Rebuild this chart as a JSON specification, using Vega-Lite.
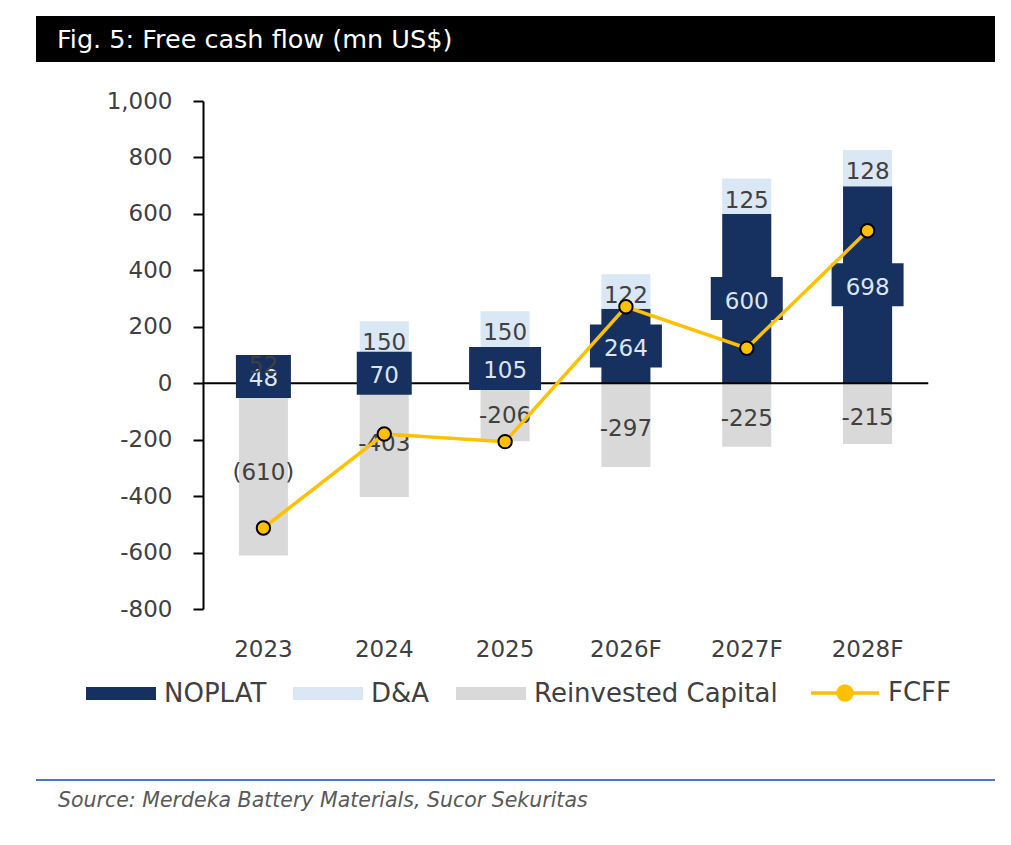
{
  "$schema": "https://vega.github.io/schema/vega-lite/v6.json",
  "background": "white",
  "padding": {"left": 36, "top": 16, "right": 0, "bottom": 0},
  "spacing": 28,
  "config": {
    "font": "DejaVu Sans",
    "view": {"stroke": null}
  },
  "datasets": {
    "flows": [
      {"year": "2023", "series": "NOPLAT", "value": 48, "label": "48"},
      {"year": "2023", "series": "D&A", "value": 52, "label": "52"},
      {"year": "2023", "series": "Reinvested Capital", "value": -610, "label": "(610)"},
      {"year": "2024", "series": "NOPLAT", "value": 70, "label": "70"},
      {"year": "2024", "series": "D&A", "value": 150, "label": "150"},
      {"year": "2024", "series": "Reinvested Capital", "value": -403, "label": "-403"},
      {"year": "2025", "series": "NOPLAT", "value": 105, "label": "105"},
      {"year": "2025", "series": "D&A", "value": 150, "label": "150"},
      {"year": "2025", "series": "Reinvested Capital", "value": -206, "label": "-206"},
      {"year": "2026F", "series": "NOPLAT", "value": 264, "label": "264"},
      {"year": "2026F", "series": "D&A", "value": 122, "label": "122"},
      {"year": "2026F", "series": "Reinvested Capital", "value": -297, "label": "-297"},
      {"year": "2027F", "series": "NOPLAT", "value": 600, "label": "600"},
      {"year": "2027F", "series": "D&A", "value": 125, "label": "125"},
      {"year": "2027F", "series": "Reinvested Capital", "value": -225, "label": "-225"},
      {"year": "2028F", "series": "NOPLAT", "value": 698, "label": "698"},
      {"year": "2028F", "series": "D&A", "value": 128, "label": "128"},
      {"year": "2028F", "series": "Reinvested Capital", "value": -215, "label": "-215"}
    ],
    "fcff": [
      {"year": "2023", "FCFF": -513},
      {"year": "2024", "FCFF": -180},
      {"year": "2025", "FCFF": -207},
      {"year": "2026F", "FCFF": 271},
      {"year": "2027F", "FCFF": 124},
      {"year": "2028F", "FCFF": 540}
    ],
    "one": [{}]
  },
  "vconcat": [
    {
      "width": 959,
      "height": 46,
      "view": {"fill": "black", "stroke": null},
      "title": {
        "text": "Fig. 5: Free cash flow (mn US$)",
        "orient": "top",
        "anchor": "start",
        "offset": -62,
        "dx": 21,
        "color": "white",
        "fontSize": 25.5,
        "fontWeight": "normal",
        "baseline": "bottom"
      },
      "data": {"name": "one"},
      "mark": {"type": "text", "text": ""}
    },
    {
      "width": 959,
      "height": 508,
      "resolve": {"scale": {"y": "independent"}},
      "layer": [
        {
          "data": {"name": "flows"},
          "mark": {"type": "bar"},
          "encoding": {
            "x": {
              "field": "year", "type": "ordinal",
              "scale": {"domain": ["2023", "2024", "2025", "2026F", "2027F", "2028F"], "range": [167, 892], "paddingInner": 0.594, "paddingOuter": 0.297},
              "axis": {"title": "\u00a0", "titleFontSize": 10, "titlePadding": 75, "labelAngle": 0, "domain": false, "ticks": false, "labelPadding": 29, "labelFontSize": 23, "labelColor": "#404040"}
            },
            "y": {
              "field": "value", "type": "quantitative", "stack": "zero",
              "scale": {"domain": [-800, 1000], "nice": false},
              "axis": {
                "title": null,
                "offset": -167,
                "values": [-800, -600, -400, -200, 0, 200, 400, 600, 800, 1000],
                "format": ",d",
                "labelExpr": "replace(datum.label, '\u2212', '-')",
                "grid": false,
                "domainColor": "black", "domainWidth": 2,
                "tickColor": "black", "tickWidth": 2, "tickSize": 10,
                "labelPadding": 21, "labelFontSize": 23, "labelColor": "#404040"
              }
            },
            "color": {
              "field": "series", "type": "nominal",
              "scale": {
                "domain": ["NOPLAT", "D&A", "Reinvested Capital", "FCFF"],
                "range": ["#16305F", "#DAE7F5", "#D9D9D9", "#FFC000"]
              },
              "legend": {
                "orient": "none", "legendX": 72, "legendY": 664,
                "direction": "horizontal", "title": null,
                "padding": 0, "columnPadding": 26, "labelOffset": 30,
                "labelFontSize": 26, "labelColor": "#404040", "labelLimit": 400,
                "symbolSize": 676, "symbolOpacity": 1, "symbolStrokeWidth": 0,
                "encode": {
                  "symbols": {
                    "update": {
                      "shape": {"signal": "datum.value === 'FCFF' ? 'M-2.615,0H-0.538M0.538,0H2.615M0.538,0A0.538,0.538 0 1 1 -0.538,0A0.538,0.538 0 1 1 0.538,0Z' : 'M-2.692,-0.5H2.692V0.5H-2.692Z'"},
                      "stroke": {"signal": "datum.value === 'FCFF' ? '#FFC000' : 'transparent'"},
                      "strokeWidth": {"signal": "datum.value === 'FCFF' ? 3.5 : 0"}
                    }
                  }
                }
              }
            },
            "order": {"field": "series", "sort": "descending"}
          }
        },
        {
          "data": {"name": "one"},
          "mark": {"type": "rule", "color": "black", "strokeWidth": 2},
          "encoding": {
            "x": {
              "datum": "2023", "type": "ordinal", "bandPosition": -0.733,
              "scale": {"domain": ["2023", "2024", "2025", "2026F", "2027F", "2028F"], "range": [167, 892], "paddingInner": 0.594, "paddingOuter": 0.297},
              "axis": {"title": "\u00a0", "titleFontSize": 10, "titlePadding": 75, "labelAngle": 0, "domain": false, "ticks": false, "labelPadding": 29, "labelFontSize": 23, "labelColor": "#404040"}
            },
            "x2": {"datum": "2028F", "bandPosition": 1.737},
            "y": {"datum": 0, "type": "quantitative", "scale": {"domain": [-800, 1000], "nice": false}, "axis": null}
          }
        },
        {
          "data": {"name": "flows"},
          "transform": [{"filter": "datum.series === 'NOPLAT'"}],
          "mark": {"type": "tick", "orient": "horizontal", "thickness": 43, "color": "#16305F", "opacity": 1},
          "encoding": {
            "x": {
              "field": "year", "type": "ordinal",
              "scale": {"domain": ["2023", "2024", "2025", "2026F", "2027F", "2028F"], "range": [167, 892], "paddingInner": 0.594, "paddingOuter": 0.297},
              "axis": {"title": "\u00a0", "titleFontSize": 10, "titlePadding": 75, "labelAngle": 0, "domain": false, "ticks": false, "labelPadding": 29, "labelFontSize": 23, "labelColor": "#404040"}
            },
            "y": {"field": "value", "type": "quantitative", "scale": {"domain": [-1600, 2000], "nice": false, "zero": false}, "axis": null},
            "size": {"condition": {"test": "datum.value < 100", "value": 55}, "value": 72}
          }
        },
        {
          "data": {"name": "flows"},
          "transform": [{"filter": "datum.series === 'NOPLAT'"}],
          "mark": {"type": "text", "fontSize": 23, "color": "#DDE5F0", "baseline": "middle", "dy": 3},
          "encoding": {
            "x": {
              "field": "year", "type": "ordinal",
              "scale": {"domain": ["2023", "2024", "2025", "2026F", "2027F", "2028F"], "range": [167, 892], "paddingInner": 0.594, "paddingOuter": 0.297},
              "axis": {"title": "\u00a0", "titleFontSize": 10, "titlePadding": 75, "labelAngle": 0, "domain": false, "ticks": false, "labelPadding": 29, "labelFontSize": 23, "labelColor": "#404040"}
            },
            "y": {"field": "value", "type": "quantitative", "scale": {"domain": [-1600, 2000], "nice": false, "zero": false}, "axis": null},
            "text": {"field": "label"}
          }
        },
        {
          "data": {"name": "flows"},
          "transform": [{"filter": "datum.series !== 'Reinvested Capital' && datum.year !== '2023'"}],
          "mark": {"type": "text", "fontSize": 23, "color": "#404040", "baseline": "middle", "dy": 22},
          "encoding": {
            "x": {
              "field": "year", "type": "ordinal",
              "scale": {"domain": ["2023", "2024", "2025", "2026F", "2027F", "2028F"], "range": [167, 892], "paddingInner": 0.594, "paddingOuter": 0.297},
              "axis": {"title": "\u00a0", "titleFontSize": 10, "titlePadding": 75, "labelAngle": 0, "domain": false, "ticks": false, "labelPadding": 29, "labelFontSize": 23, "labelColor": "#404040"}
            },
            "y": {"field": "value", "type": "quantitative", "stack": "zero", "scale": {"domain": [-800, 1000], "nice": false}, "axis": null},
            "detail": {"field": "series"},
            "order": {"field": "series", "sort": "descending"},
            "text": {"field": "label"},
            "opacity": {"condition": {"test": "datum.series === 'D&A'", "value": 1}, "value": 0}
          }
        },
        {
          "data": {"name": "flows"},
          "transform": [{"filter": "datum.series !== 'Reinvested Capital' && datum.year === '2023'"}],
          "mark": {"type": "text", "fontSize": 23, "color": "#404040", "baseline": "middle", "dy": 11},
          "encoding": {
            "x": {
              "field": "year", "type": "ordinal",
              "scale": {"domain": ["2023", "2024", "2025", "2026F", "2027F", "2028F"], "range": [167, 892], "paddingInner": 0.594, "paddingOuter": 0.297},
              "axis": {"title": "\u00a0", "titleFontSize": 10, "titlePadding": 75, "labelAngle": 0, "domain": false, "ticks": false, "labelPadding": 29, "labelFontSize": 23, "labelColor": "#404040"}
            },
            "y": {"field": "value", "type": "quantitative", "stack": "zero", "scale": {"domain": [-800, 1000], "nice": false}, "axis": null},
            "detail": {"field": "series"},
            "order": {"field": "series", "sort": "descending"},
            "text": {"field": "label"},
            "opacity": {"condition": {"test": "datum.series === 'D&A'", "value": 1}, "value": 0}
          }
        },
        {
          "data": {"name": "flows"},
          "transform": [{"filter": "datum.series === 'Reinvested Capital'"}],
          "mark": {"type": "text", "fontSize": 23, "color": "#404040", "baseline": "middle", "dy": 4},
          "encoding": {
            "x": {
              "field": "year", "type": "ordinal",
              "scale": {"domain": ["2023", "2024", "2025", "2026F", "2027F", "2028F"], "range": [167, 892], "paddingInner": 0.594, "paddingOuter": 0.297},
              "axis": {"title": "\u00a0", "titleFontSize": 10, "titlePadding": 75, "labelAngle": 0, "domain": false, "ticks": false, "labelPadding": 29, "labelFontSize": 23, "labelColor": "#404040"}
            },
            "y": {"field": "value", "type": "quantitative", "scale": {"domain": [-1600, 2000], "nice": false, "zero": false}, "axis": null},
            "text": {"field": "label"}
          }
        },
        {
          "data": {"name": "fcff"},
          "mark": {"type": "line", "color": "#FFC000", "strokeWidth": 3.5},
          "encoding": {
            "x": {
              "field": "year", "type": "ordinal",
              "scale": {"domain": ["2023", "2024", "2025", "2026F", "2027F", "2028F"], "range": [167, 892], "paddingInner": 0.594, "paddingOuter": 0.297},
              "axis": {"title": "\u00a0", "titleFontSize": 10, "titlePadding": 75, "labelAngle": 0, "domain": false, "ticks": false, "labelPadding": 29, "labelFontSize": 23, "labelColor": "#404040"}
            },
            "y": {"field": "FCFF", "type": "quantitative", "scale": {"domain": [-800, 1000], "nice": false}, "axis": null}
          }
        },
        {
          "data": {"name": "fcff"},
          "mark": {"type": "point", "shape": "circle", "filled": true, "fill": "#FFC000", "stroke": "black", "strokeWidth": 2, "size": 180, "opacity": 1},
          "encoding": {
            "x": {
              "field": "year", "type": "ordinal",
              "scale": {"domain": ["2023", "2024", "2025", "2026F", "2027F", "2028F"], "range": [167, 892], "paddingInner": 0.594, "paddingOuter": 0.297},
              "axis": {"title": "\u00a0", "titleFontSize": 10, "titlePadding": 75, "labelAngle": 0, "domain": false, "ticks": false, "labelPadding": 29, "labelFontSize": 23, "labelColor": "#404040"}
            },
            "y": {"field": "FCFF", "type": "quantitative", "scale": {"domain": [-800, 1000], "nice": false}, "axis": null}
          }
        }
      ]
    },
    {
      "width": 959,
      "height": 2,
      "view": {"fill": "#4A78C2", "stroke": null},
      "title": {
        "text": "Source: Merdeka Battery Materials, Sucor Sekuritas",
        "orient": "bottom",
        "anchor": "start",
        "offset": 6,
        "dx": 22,
        "color": "#595959",
        "fontSize": 20.5,
        "fontStyle": "italic",
        "fontWeight": "normal"
      },
      "data": {"name": "one"},
      "mark": {"type": "text", "text": ""}
    }
  ]
}
